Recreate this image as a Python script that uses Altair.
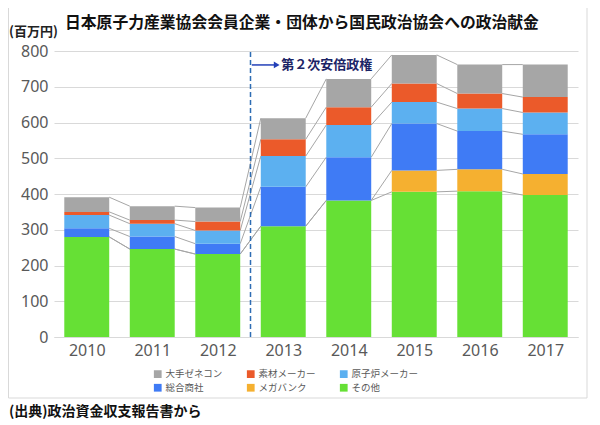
import altair as alt
import pandas as pd

# ---------------- data ----------------
years = [2010, 2011, 2012, 2013, 2014, 2015, 2016, 2017]

# stack order, bottom to top
categories = ["その他", "メガバンク", "総合商社", "原子炉メーカー", "素材メーカー", "大手ゼネコン"]
sonota   = [280, 246, 232, 310, 382, 406, 408, 397]
megabank = [0, 0, 0, 0, 0, 60, 61, 59]
shosha   = [24, 35, 29, 110, 121, 131, 107, 111]
genshiro = [37, 36, 37, 86, 90, 60, 63, 61]
sozai    = [9, 10, 25, 47, 50, 52, 42, 43]
zenecon  = [41, 39, 39, 59, 79, 80, 81, 91]
series = [sonota, megabank, shosha, genshiro, sozai, zenecon]

colors = ["#66e035", "#f5b030", "#3f7bf5", "#5cb0f0", "#eb5a2a", "#a6a6a6"]
legend_order = ["大手ゼネコン", "素材メーカー", "原子炉メーカー", "総合商社", "メガバンク", "その他"]

y_ticks = [0, 100, 200, 300, 400, 500, 600, 700, 800]

title_text = "日本原子力産業協会会員企業・団体から国民政治協会への政治献金"
unit_text = "(百万円)"
source_text = "(出典)政治資金収支報告書から"
abe_text = "第２次安倍政権"
abe_year = 2012.5      # boundary between 2012 and 2013
abe_label_y = 761

# ---------------- derived tables ----------------
HW = 0.343  # half bar width in year units
bar_rows = []
cum = {y: [] for y in years}
for i, yr in enumerate(years):
    c = 0
    for cat, vals in zip(categories, series):
        v = vals[i]
        if v > 0:
            bar_rows.append({"year": yr, "cat": cat, "x": yr - HW, "x2": yr + HW,
                             "y": c, "y2": c + v, "value": v})
        c += v
        cum[yr].append(c)
bars_df = pd.DataFrame(bar_rows)

conn_rows = []
for i in range(len(years) - 1):
    a, b = years[i], years[i + 1]
    for k in range(len(categories)):
        conn_rows.append({"x": a + HW, "x2": b - HW, "y": cum[a][k], "y2": cum[b][k]})
conn_df = pd.DataFrame(conn_rows)

color_map = dict(zip(categories, colors))
legend_colors = [color_map[c] for c in legend_order]

FONT_JP = "Noto Sans CJK JP"
FONT_NUM = "Noto Sans"

xscale = alt.Scale(domain=[2009.5, 2017.5], nice=False, zero=False)
yscale = alt.Scale(domain=[0, 800], nice=False)
x_axis = alt.Axis(values=years, format="d", grid=False, ticks=False, domain=True,
                  domainColor="#d9d9d9", labelFontSize=16, labelColor="#595959",
                  labelFont=FONT_NUM, labelPadding=5, title=None, labelOverlap=False)
y_axis = alt.Axis(values=y_ticks, grid=True, gridColor="#d9d9d9", ticks=False,
                  domain=False, labelFontSize=16, labelColor="#595959",
                  labelFont=FONT_NUM, labelPadding=6, title=None, labelOverlap=False)


def X(field):
    return alt.X(field, scale=xscale, axis=x_axis)


def Y(field):
    return alt.Y(field, scale=yscale, axis=y_axis)


connectors = alt.Chart(conn_df).mark_rule(color="#a6a6a6", strokeWidth=1).encode(
    x=X("x:Q"), x2="x2:Q", y=Y("y:Q"), y2="y2:Q")

bars = alt.Chart(bars_df).mark_bar(stroke=None).encode(
    x=X("x:Q"),
    x2="x2:Q",
    y=Y("y:Q"),
    y2="y2:Q",
    color=alt.Color("cat:N", scale=alt.Scale(domain=legend_order, range=legend_colors),
                    legend=alt.Legend(
                        title=None, orient="none", legendX=99, legendY=318,
                        columns=3, direction="horizontal", symbolType="square",
                        symbolSize=60, symbolStrokeWidth=0, labelFontSize=9.5,
                        labelColor="#595959", labelFont=FONT_JP, labelOffset=3,
                        gridAlign="all", columnPadding=13, rowPadding=3)),
    tooltip=["year:Q", "cat:N", "value:Q"],
)

dash_df = pd.DataFrame({"x": [abe_year], "y": [0], "y2": [805]})
dashed = alt.Chart(dash_df).mark_rule(color="#2e6db4", strokeWidth=1.5,
                                      strokeDash=[5, 3]).encode(
    x=X("x:Q"), y=Y("y:Q"), y2="y2:Q")

arrow_df = pd.DataFrame({"x": [abe_year + 0.02], "x2": [abe_year + 0.40],
                         "y": [abe_label_y]})
arrow_line = alt.Chart(arrow_df).mark_rule(color="#2340b8", strokeWidth=1.5).encode(
    x=X("x:Q"), x2="x2:Q", y=Y("y:Q"))
head_df = pd.DataFrame({"x": [abe_year + 0.40], "y": [abe_label_y]})
arrow_head = alt.Chart(head_df).mark_point(shape="triangle-right", filled=True,
                                           color="#2340b8", size=45, opacity=1).encode(
    x=X("x:Q"), y=Y("y:Q"))
label_df = pd.DataFrame({"x": [abe_year + 0.47], "y": [abe_label_y], "t": [abe_text]})
abe_label = alt.Chart(label_df).mark_text(align="left", baseline="middle", fontSize=13,
                                          fontWeight="bold", font=FONT_JP,
                                          color="#1c2466").encode(
    x=X("x:Q"), y=Y("y:Q"), text="t:N")

one = pd.DataFrame({"a": [0]})
border = alt.Chart(one).mark_rect(fillOpacity=0, stroke="#d9d9d9", strokeWidth=1).encode(
    x=alt.value(-45.5), x2=alt.value(533), y=alt.value(-44), y2=alt.value(347))
title = alt.Chart(one).mark_text(text=title_text, align="left", baseline="middle",
                                 fontSize=15.8, fontWeight="bold", font=FONT_JP,
                                 color="#111111").encode(x=alt.value(11), y=alt.value(-28))
unit = alt.Chart(one).mark_text(text=unit_text, align="left", baseline="middle",
                                fontSize=13, fontWeight="bold", font=FONT_JP,
                                color="#222222").encode(x=alt.value(-45), y=alt.value(-19))
source = alt.Chart(one).mark_text(text=source_text, align="left", baseline="middle",
                                  fontSize=14, fontWeight="bold", font=FONT_JP,
                                  color="#111111").encode(x=alt.value(-45), y=alt.value(361))

chart = alt.layer(border, connectors, bars, dashed, arrow_line, arrow_head, abe_label,
                  title, unit, source).properties(
    width=524, height=286,
    autosize=alt.AutoSizeParams(type="none"),
    padding={"left": 46, "top": 43, "right": 14, "bottom": 85},
).configure_view(stroke=None)

chart.save("out.html", embed_options={"renderer": "svg", "actions": False})
